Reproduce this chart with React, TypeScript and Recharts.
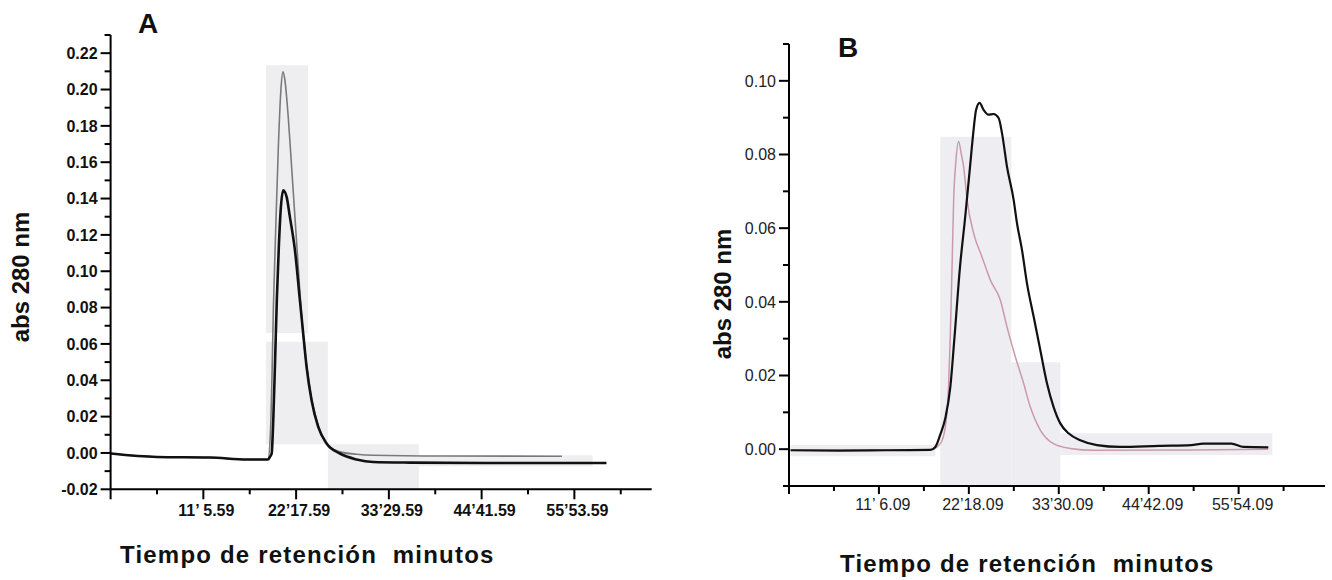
import React from 'react';
import { LineChart, Line, XAxis, YAxis, ReferenceArea } from 'recharts';

// ---------- Panel A ----------
// retention time in minutes, absorbance at 280 nm
const aDarkT = [-0.06, 5.49, 11.89, 16.35, 18.89, 19.13, 19.34, 19.55, 19.75, 19.97, 20.22, 20.45, 20.74, 21.15, 21.54, 22.15, 22.75, 23.15, 23.56, 24.16, 24.96, 25.97, 27.58, 29.59, 31.6, 36.0, 45.0, 59.77];
const aDarkV = [-0.0003, -0.0022, -0.0025, -0.0036, -0.0036, -0.0022, -0.0003, 0.02, 0.05, 0.085, 0.115, 0.135, 0.1446, 0.1409, 0.1299, 0.1116, 0.0841, 0.0657, 0.0473, 0.029, 0.0143, 0.0052, -0.0003, -0.0036, -0.005, -0.0053, -0.0055, -0.0055];
const aGrayT = [-0.06, 5.49, 11.89, 16.35, 18.89, 19.19, 19.37, 19.55, 19.79, 20.16, 20.46, 20.7, 20.94, 21.34, 21.75, 22.15, 22.55, 22.96, 23.35, 23.75, 24.36, 25.16, 26.17, 27.58, 29.59, 31.6, 40.0, 54.4];
const aGrayV = [-0.0003, -0.0022, -0.0025, -0.0036, -0.0036, 0.0107, 0.04, 0.08, 0.117, 0.17, 0.2, 0.2097, 0.2052, 0.185, 0.1574, 0.1299, 0.1024, 0.0749, 0.056, 0.0418, 0.0253, 0.0125, 0.0042, 0.0006, -0.0007, -0.0013, -0.0017, -0.0018];

const aXMajor = [-0.1068, 11.0932, 22.2932, 33.4932, 44.6932, 55.8932];
const aXMinor = [5.4932, 16.6932, 27.8932, 39.0932, 50.2932, 61.4932];
const aXLabels = ['', '11\u2019 5.59', '22\u201917.59', '33\u201929.59', '44\u201941.59', '55\u201953.59'];
const aYMajor = [-0.02, 0, 0.02, 0.04, 0.06, 0.08, 0.1, 0.12, 0.14, 0.16, 0.18, 0.2, 0.22];
const aYMinor = [-0.01, 0.01, 0.03, 0.05, 0.07, 0.09, 0.11, 0.13, 0.15, 0.17, 0.19, 0.21, 0.23];

// faint grey patches of the scan
const aShading = [
  { t1: 18.65, t2: 23.72, v1: 0.066, v2: 0.2134 },
  { t1: 18.65, t2: 26.13, v1: 0.0048, v2: 0.0612 },
  { t1: 26.13, t2: 37.11, v1: -0.02, v2: 0.0048 },
  { t1: 37.11, t2: 58.1, v1: -0.0073, v2: -0.0013 },
];

// ---------- Panel B ----------
const bDarkT = [0.1, 6.0, 12.0, 17.5, 18.13, 18.75, 19.38, 20.0, 20.5, 21.2, 21.85, 22.45, 22.85, 23.2, 23.64, 24.14, 24.76, 25.39, 26.01, 26.43, 27.05, 27.88, 28.3, 28.92, 29.54, 30.37, 31.2, 32.03, 32.85, 33.69, 34.72, 36.18, 38.25, 41.15, 46.0, 50.0, 51.5, 55.0, 56.5, 59.6];
const bDarkV = [-0.0003, -0.0004, -0.0003, -0.0002, 0.0006, 0.004, 0.0085, 0.017, 0.03, 0.0495, 0.0631, 0.0767, 0.0858, 0.0921, 0.094, 0.0921, 0.0908, 0.091, 0.0899, 0.0858, 0.0767, 0.0677, 0.0613, 0.0541, 0.045, 0.036, 0.0269, 0.0179, 0.0115, 0.007, 0.0043, 0.0024, 0.0011, 0.0006, 0.0009, 0.0011, 0.0015, 0.0015, 0.0006, 0.0005];
const bPinkT = [0.1, 17.5, 18.75, 19.38, 19.79, 20.0, 20.21, 20.41, 20.68, 21.03, 21.37, 21.65, 22.08, 22.9, 23.94, 24.98, 26.22, 27.05, 28.09, 29.12, 29.95, 31.2, 32.85, 34.93, 37.83, 50.0, 59.57];
const bPinkV = [-0.0003, -0.0002, 0.0015, 0.0061, 0.0179, 0.0314, 0.0495, 0.0677, 0.078, 0.0835, 0.08, 0.0767, 0.0677, 0.0586, 0.0522, 0.0459, 0.0405, 0.0332, 0.0251, 0.0179, 0.0115, 0.0052, 0.0015, 0.0002, -0.0003, -0.0002, 0.0];

const bXMajor = [-0.0985, 11.1015, 22.3015, 33.5015, 44.7015, 55.9015];
const bXMinor = [5.5015, 16.7015, 27.9015, 39.1015, 50.3015, 61.5015];
const bXLabels = ['', '11\u2019 6.09', '22\u201918.09', '33\u201930.09', '44\u201942.09', '55\u201954.09'];
const bYMajor = [0, 0.02, 0.04, 0.06, 0.08, 0.1];
const bYMinor = [-0.01, 0.01, 0.03, 0.05, 0.07, 0.09, 0.11];

const bShading = [
  { t1: 18.75, t2: 27.59, v1: -0.01, v2: 0.0848 },
  { t1: 27.59, t2: 33.69, v1: -0.01, v2: 0.0236 },
  { t1: 33.69, t2: 60.1, v1: -0.0016, v2: 0.0043 },
  { t1: 0.09, t2: 18.13, v1: -0.0019, v2: 0.0011 },
];

const zip = (ts: number[], vs: number[]) => ts.map((t, i) => ({ t, v: vs[i] }));
const isIn = (arr: number[], v: number) => arr.findIndex((m) => Math.abs(m - v) < 1e-6);

const FONT = '"Liberation Sans", Arial, sans-serif';

type AxisCfg = {
  axis: number;
  majors: number[];
  labels?: string[];
  majorLen: number;
  minorLen: number;
  labelPos: number;
  dx: number;
  weight: string | number;
  color: string;
  size: number;
};

const makeXTick = (c: AxisCfg) => (props: any) => {
  const { x, payload } = props;
  const idx = isIn(c.majors, payload.value);
  const major = idx >= 0;
  const label = major && c.labels ? c.labels[idx] : '';
  return (
    <g>
      <line x1={x} x2={x} y1={c.axis} y2={c.axis + (major ? c.majorLen : c.minorLen)} stroke="#000" strokeWidth={2} />
      {label ? (
        <text x={x + c.dx} y={c.labelPos} textAnchor="middle" fontFamily={FONT} fontSize={c.size} fontWeight={c.weight} fill={c.color}>
          {label}
        </text>
      ) : null}
    </g>
  );
};

const makeYTick = (c: AxisCfg) => (props: any) => {
  const { y, payload } = props;
  const major = isIn(c.majors, payload.value) >= 0;
  return (
    <g>
      <line x1={c.axis - (major ? c.majorLen : c.minorLen)} x2={c.axis} y1={y} y2={y} stroke="#000" strokeWidth={2} />
      {major ? (
        <text x={c.axis - c.labelPos} y={y} dy="0.36em" textAnchor="end" fontFamily={FONT} fontSize={c.size} fontWeight={c.weight} fill={c.color}>
          {payload.value.toFixed(2)}
        </text>
      ) : null}
    </g>
  );
};

const PanelA: React.FC = () => (
  <LineChart width={670} height={580} margin={{ top: 35, right: 18.3, bottom: 50.7, left: 50.6 }}>
    {aShading.map((s, i) => (
      <ReferenceArea key={i} x1={s.t1} x2={s.t2} y1={s.v1} y2={s.v2} fill="#eeeef1" fillOpacity={1} stroke="none" />
    ))}
    <XAxis
      type="number"
      dataKey="t"
      domain={[-0.1068, 65.23]}
      allowDataOverflow
      ticks={[...aXMajor, ...aXMinor].sort((p, q) => p - q)}
      interval={0}
      height={40}
      tickLine={false}
      axisLine={{ stroke: '#000', strokeWidth: 2 }}
      tick={makeXTick({ axis: 489.3, majors: aXMajor, labels: aXLabels, majorLen: 10, minorLen: 5, labelPos: 516, dx: 3, weight: 'bold', color: '#111', size: 16 })}
    />
    <YAxis
      type="number"
      dataKey="v"
      domain={[-0.02, 0.23]}
      allowDataOverflow
      ticks={[...aYMajor, ...aYMinor].sort((p, q) => p - q)}
      interval={0}
      width={60}
      tickLine={false}
      axisLine={{ stroke: '#000', strokeWidth: 2 }}
      tick={makeYTick({ axis: 110.6, majors: aYMajor, majorLen: 10, minorLen: 6, labelPos: 13, dx: 0, weight: 'bold', color: '#111', size: 16 })}
    />
    <Line data={zip(aGrayT, aGrayV)} dataKey="v" type="monotone" stroke="#7a7a7a" strokeWidth={1.6} dot={false} isAnimationActive={false} />
    <Line data={zip(aDarkT, aDarkV)} dataKey="v" type="monotone" stroke="#111" strokeWidth={2.6} dot={false} isAnimationActive={false} />
  </LineChart>
);

const PanelB: React.FC = () => (
  <LineChart width={662} height={580} margin={{ top: 44, right: 7, bottom: 54, left: 59 }}>
    {bShading.map((s, i) => (
      <ReferenceArea key={i} x1={s.t1} x2={s.t2} y1={s.v1} y2={s.v2} fill="#eeeef2" fillOpacity={1} stroke="none" />
    ))}
    <XAxis
      type="number"
      dataKey="t"
      domain={[-0.0985, 66.66]}
      allowDataOverflow
      ticks={[...bXMajor, ...bXMinor].sort((p, q) => p - q)}
      interval={0}
      height={40}
      tickLine={false}
      axisLine={{ stroke: '#000', strokeWidth: 2 }}
      tick={makeXTick({ axis: 486, majors: bXMajor, labels: bXLabels, majorLen: 8, minorLen: 5, labelPos: 510, dx: 4, weight: 'normal', color: '#222', size: 16 })}
    />
    <YAxis
      type="number"
      dataKey="v"
      domain={[-0.01, 0.11]}
      allowDataOverflow
      ticks={[...bYMajor, ...bYMinor].sort((p, q) => p - q)}
      interval={0}
      width={60}
      tickLine={false}
      axisLine={{ stroke: '#000', strokeWidth: 2 }}
      tick={makeYTick({ axis: 119, majors: bYMajor, majorLen: 10, minorLen: 6, labelPos: 13, dx: 0, weight: 'normal', color: '#222', size: 16 })}
    />
    <Line data={zip(bPinkT, bPinkV)} dataKey="v" type="monotone" stroke="#c99aab" strokeWidth={1.5} dot={false} isAnimationActive={false} />
    <Line data={zip(bDarkT, bDarkV)} dataKey="v" type="monotone" stroke="#111" strokeWidth={2.2} dot={false} isAnimationActive={false} />
  </LineChart>
);

const App: React.FC = () => (
  <div style={{ position: 'absolute', left: 0, top: 0, width: 1332, height: 580, background: '#fff', overflow: 'hidden' }}>
    <div style={{ position: 'absolute', left: 0, top: 0 }}>
      <PanelA />
    </div>
    <div style={{ position: 'absolute', left: 670, top: 0 }}>
      <PanelB />
    </div>
    <svg width={1332} height={580} style={{ position: 'absolute', left: 0, top: 0, pointerEvents: 'none' }}>
      <g fontFamily={FONT} fontWeight="bold" fill="#111">
        <text x={138} y={33} fontSize={28}>A</text>
        <text x={838} y={57} fontSize={28}>B</text>
        <text x={120} y={563} fontSize={24} letterSpacing={1.2} style={{ whiteSpace: 'pre' }}>Tiempo de retención  minutos</text>
        <text x={840} y={572} fontSize={24} letterSpacing={1.2} style={{ whiteSpace: 'pre' }}>Tiempo de retención  minutos</text>
        <text transform="translate(29 277) rotate(-90)" textAnchor="middle" fontSize={24}>abs 280 nm</text>
        <text transform="translate(731 294) rotate(-90)" textAnchor="middle" fontSize={24}>abs 280 nm</text>
      </g>
    </svg>
  </div>
);

export default App;
